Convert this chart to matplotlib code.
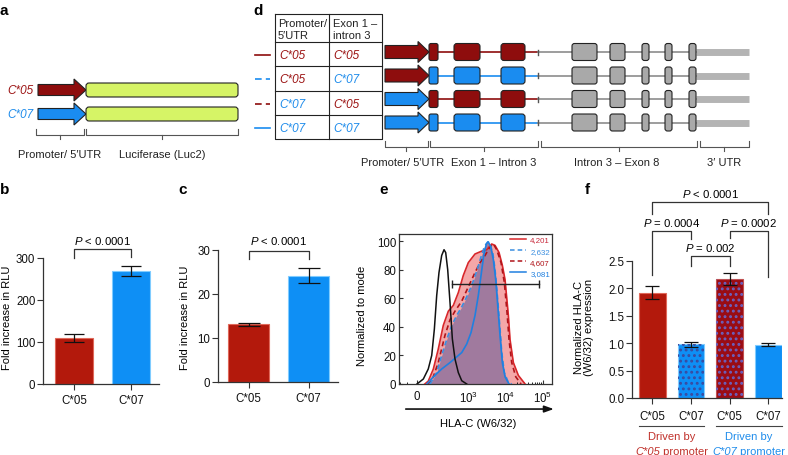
import numpy as np
import matplotlib
matplotlib.use("Agg")
import matplotlib.pyplot as plt
from matplotlib.patches import FancyArrow, FancyBboxPatch
from matplotlib.lines import Line2D
from matplotlib import transforms

# ========================= STYLE =========================
plt.rcParams["font.family"] = ["Liberation Sans", "DejaVu Sans"]
plt.rcParams["font.size"] = 8
plt.rcParams["mathtext.fontset"] = "custom"
plt.rcParams["mathtext.rm"] = "Liberation Sans"
plt.rcParams["mathtext.it"] = "Liberation Sans:italic"
plt.rcParams["axes.linewidth"] = 0.9
plt.rcParams["hatch.linewidth"] = 1.3

W, H = 788, 456
DARK_RED = "#8e0d0d"
RED_BAR = "#b3190c"
BLUE = "#1a8cf0"
BLUE_BAR = "#0e8ff5"
LIME = "#d6f466"
AX_COL = "#333333"
PINK = "#f4a7a8"
MAUVE = "#a07a9e"

ALLELE_COL = {"C*05": "#9c1414", "C*07": "#1f8ceb"}
GENE_COL = {"C*05": DARK_RED, "C*07": BLUE}

# ========================= DATA =========================
# a-c : luciferase reporter
LUC_ALLELES = ["C*05", "C*07"]
RLU_B = [110, 270]
RLU_B_ERR = [9, 12]
RLU_C = [13.1, 24.1]
RLU_C_ERR = [0.35, 1.7]
P_LUC = "< 0.0001"

# d : chimeric constructs + gene model (schematic units)
D_PROMOTER = ["C*05", "C*05", "C*07", "C*07"]
D_EXON = ["C*05", "C*07", "C*05", "C*07"]
PROMOTER_SPAN = (385, 429)
EXONS_1_3 = [(429, 438), (454, 480), (501, 525)]
INTRON3_START = 538
EXONS_4_8 = [(572, 597), (610, 625), (642, 649), (665, 672), (689, 696)]
UTR3 = (696, 749)
D_REGIONS = ["Promoter/ 5\u2032UTR", "Exon 1 \u2013 Intron 3", "Intron 3 \u2013 Exon 8", "3\u2032 UTR"]
D_REGION_SPANS = [(385, 428), (430, 538), (541, 697), (700, 749)]
D_REGION_LABEL_X = [403, 494, 617, 724]

# e : flow histograms (fluorescence vs % of mode)
ISO_X = [0, 32, 60, 83, 103, 123, 145, 175, 205, 229, 261, 303, 352, 416, 513, 636, 869]
ISO_Y = [0, 3.5, 10.5, 20, 38.5, 62, 78, 90, 94, 92, 80, 57, 31.5, 17.5, 8, 2.3, 0]
RS_X = [40, 60, 95, 138, 195, 272, 374, 514, 702, 961, 1456, 2212, 3020, 4125, 5070,
        6500, 7980, 9440, 11600, 12880, 15830, 21600, 32800]
RS_Y = [0, 2, 10.5, 24.5, 41, 51, 55, 64, 76, 85, 91, 93, 94, 98, 97, 92, 83, 73, 48,
        31, 15, 6, 0]
BD_X = [71, 123, 175, 244, 338, 464, 636, 869, 1186, 1620, 2120, 2600, 3215, 3780, 4390,
        5070, 5850, 6790, 7690, 9040, 11600, 14300]
BD_Y = [0, 8, 20, 31, 41, 48, 54, 61, 69, 79, 89, 96, 99.5, 97, 92, 80, 62, 41, 22, 8, 1, 0]
RD_X = [55, 83, 138, 218, 303, 416, 636, 961, 1456, 1990, 2720, 3710, 4560, 5630, 7360,
        9040, 10690, 12100, 14300, 18400, 25600]
RD_Y = [0, 2, 15, 34, 45, 51, 58, 68, 78, 85, 90, 96, 98, 94, 85, 71, 50, 31, 15, 5, 0]
BS_X = [51, 95, 175, 303, 464, 636, 869, 1136, 1456, 1790, 2120, 2505, 2945, 3335, 3875,
        4560, 5290, 5990, 6910, 7980, 9440, 12100]
BS_Y = [0, 5, 10.5, 15, 19, 22, 28, 36, 48, 62, 76, 90, 98, 99.5, 96, 87, 73, 55, 34, 15, 5, 0]
MFI_LABELS = ["4,201", "2,632", "4,607", "3,081"]
GATE_X = [345, 78000]
GATE_Y = 70

# f : normalized HLA-C expression
F_LABELS = ["C*05", "C*07", "C*05", "C*07"]
F_VALUES = [1.92, 0.98, 2.18, 0.97]
F_ERR = [0.12, 0.05, 0.11, 0.03]
F_PAIRS = [(0, 3), (0, 1), (2, 3), (1, 2)]
F_PVALS = ["< 0.0001", "= 0.0004", "= 0.0002", "= 0.002"]
F_BRACKET_Y = [3.58, 3.05, 3.05, 2.59]
F_LEG_ENDS = [(3.36, 3.36), (2.24, 2.90), (2.92, 2.21), (2.41, 2.41)]
F_GROUPS = ["C*05", "C*07"]

# ========================= HELPERS =========================
fig = plt.figure(figsize=(W / 100, H / 100), dpi=100)
renderer = fig.canvas.get_renderer()


def px_axes(x0, y0, x1, y1, **kw):
    return fig.add_axes([x0 / W, 1 - y1 / H, (x1 - x0) / W, (y1 - y0) / H], **kw)


def panel_letter(x, y, s):
    fig.text(x / W, 1 - y / H, s, fontsize=11, fontweight="bold", va="center", ha="left")


def style_bar_axes(ax):
    for s in ("top", "right"):
        ax.spines[s].set_visible(False)
    for s in ("left", "bottom"):
        ax.spines[s].set_color(AX_COL)
    ax.tick_params(length=4, width=0.8, color=AX_COL, labelcolor="#111", labelsize=8.3)
    ax.tick_params(axis="y", pad=1.5)
    ax.tick_params(axis="x", pad=3)


def pvalue(ax, i, j, y_top, legs, txt_y, label):
    ax.plot([i, i, j, j], [legs[0], y_top, y_top, legs[1]], color=AX_COL, lw=0.9, clip_on=False)
    ax.text((i + j) / 2, txt_y, "$\\mathit{P}$ " + label, ha="center", va="center", fontsize=8.2)


def bracket(ax, x0, x1, y_top, y_bot, tick):
    ax.plot([x0, x0, x1, x1], [y_top, y_bot, y_bot, y_top], color="#555", lw=0.8)
    xm = (x0 + x1) / 2
    ax.plot([xm, xm], [y_bot, y_bot + tick], color="#555", lw=0.8)


# ========================= SCHEMATICS (a, d) =========================
sch = fig.add_axes([0, 0, 1, 1], zorder=-1)
sch.set_xlim(0, W)
sch.set_ylim(H, 0)
sch.axis("off")

# panel a
for allele, y in zip(LUC_ALLELES, [91, 115]):
    sch.add_patch(FancyArrow(38, y, 48, 0, width=11, head_width=22, head_length=12,
                             length_includes_head=True, fc=GENE_COL[allele], ec="#222", lw=0.8))
    sch.add_patch(FancyBboxPatch((86, y - 7), 152, 14, boxstyle="round,pad=0,rounding_size=3",
                                 fc=LIME, ec="#222", lw=0.8))
    sch.text(33, y, allele, ha="right", va="center", style="italic", fontsize=8.5,
             color=ALLELE_COL[allele])
for (x0, x1), lab in zip([(36, 84), (86, 238)], ["Promoter/ 5\u2032UTR", "Luciferase (Luc2)"]):
    bracket(sch, x0, x1, 130, 136, 4)
    sch.text((x0 + x1) / 2, 155, lab, ha="center", va="center", fontsize=8, color="#222")

# panel d : table
t_left, t_mid, t_right = 275, 329, 382
row_lines = [15, 43, 67.25, 91.5, 115.75, 140]
sch.plot([t_left, t_right, t_right, t_left, t_left], [15, 15, 140, 140, 15], color="#222", lw=0.8)
for yl in row_lines[1:-1]:
    sch.plot([t_left, t_right], [yl, yl], color="#222", lw=0.8)
sch.plot([t_mid, t_mid], [15, 140], color="#222", lw=0.8)
sch.text(t_left + 3, 30, "Promoter/\n5\u2032UTR", ha="left", va="center", fontsize=8,
         linespacing=1.25, color="#222")
sch.text(t_mid + 4, 30, "Exon 1 \u2013\nintron 3", ha="left", va="center", fontsize=8,
         linespacing=1.25, color="#222")
for i, (prom, exon) in enumerate(zip(D_PROMOTER, D_EXON)):
    yc = (row_lines[i + 1] + row_lines[i + 2]) / 2 + 1
    sch.text(t_left + 4, yc, prom, ha="left", va="center", style="italic", fontsize=8.5,
             color=ALLELE_COL[prom])
    sch.text(t_mid + 4, yc, exon, ha="left", va="center", style="italic", fontsize=8.5,
             color=ALLELE_COL[exon])
    ln, = sch.plot([255, 270], [yc, yc], color=GENE_COL[exon], lw=1.2)
    if prom != exon:
        ln.set_dashes((4, 2.5))

# panel d : gene models
for i, (prom, exon) in enumerate(zip(D_PROMOTER, D_EXON)):
    y = 53 + 23.5 * i
    pc, ec = GENE_COL[prom], GENE_COL[exon]
    sch.plot([EXONS_1_3[0][1], INTRON3_START], [y, y], color=ec, lw=1.2, zorder=1)
    sch.plot([INTRON3_START, UTR3[0]], [y, y], color="#8c8c8c", lw=1.2, zorder=1)
    sch.plot([INTRON3_START] * 2, [y - 2.5, y + 2.5], color="#555", lw=1, zorder=1)
    sch.plot(UTR3, [y, y], color="#b4b4b4", lw=5, solid_capstyle="butt", zorder=1)
    sch.add_patch(FancyArrow(PROMOTER_SPAN[0], y, PROMOTER_SPAN[1] - PROMOTER_SPAN[0], 0,
                             width=13, head_width=21, head_length=11, length_includes_head=True,
                             fc=pc, ec="#222", lw=0.8, zorder=2))
    for k, (x0, x1) in enumerate(EXONS_1_3):
        sch.add_patch(FancyBboxPatch((x0, y - 8.5), x1 - x0, 17,
                                     boxstyle="round,pad=0,rounding_size=%.1f" % (2 if k == 0 else 3),
                                     fc=ec, ec="#222", lw=0.8, zorder=3))
    for x0, x1 in EXONS_4_8:
        sch.add_patch(FancyBboxPatch((x0, y - 8.5), x1 - x0, 17,
                                     boxstyle="round,pad=0,rounding_size=2.5",
                                     fc="#a9a9a9", ec="#222", lw=0.8, zorder=3))
for (x0, x1), lab, lx in zip(D_REGION_SPANS, D_REGIONS, D_REGION_LABEL_X):
    bracket(sch, x0, x1, 142, 148, 4)
    sch.text(lx, 163, lab, ha="center", va="center", fontsize=8, color="#222")

# ========================= PANEL b =========================
ax_b = px_axes(43, 259, 159, 385)
ax_b.bar([0, 1], RLU_B, width=0.66, color=[RED_BAR, BLUE_BAR], edgecolor=["#e0685a", "#80ccff"],
         linewidth=0.8, zorder=2)
ax_b.errorbar([0, 1], RLU_B, yerr=RLU_B_ERR, fmt="none", ecolor="#111", elinewidth=0.9,
              capsize=7, capthick=0.9, zorder=3)
ax_b.set_xlim(-0.54, 1.48)
ax_b.set_ylim(0, 300)
ax_b.set_yticks([0, 100, 200, 300])
ax_b.set_xticks([0, 1], LUC_ALLELES)
style_bar_axes(ax_b)
pvalue(ax_b, 0, 1, 321, (301, 302), 343, P_LUC)
ax_b.text(-0.313, 0.536, "Fold increase in RLU", rotation=90, ha="center", va="center",
          transform=ax_b.transAxes, fontsize=8)

# ========================= PANEL c =========================
ax_c = px_axes(218, 251, 338, 383)
ax_c.bar([0, 1], RLU_C, width=0.68, color=[RED_BAR, BLUE_BAR], edgecolor=["#e0685a", "#80ccff"],
         linewidth=0.8, zorder=2)
ax_c.errorbar([0, 1], RLU_C, yerr=RLU_C_ERR, fmt="none", ecolor="#111", elinewidth=0.9,
              capsize=8, capthick=0.9, zorder=3)
ax_c.set_xlim(-0.51, 1.49)
ax_c.set_ylim(0, 30)
ax_c.set_yticks([0, 10, 20, 30])
ax_c.set_xticks([0, 1], LUC_ALLELES)
style_bar_axes(ax_c)
pvalue(ax_c, 0, 1, 29.8, (28, 28), 32.2, P_LUC)
ax_c.text(-0.275, 0.496, "Fold increase in RLU", rotation=90, ha="center", va="center",
          transform=ax_c.transAxes, fontsize=8)

# ========================= PANEL e =========================
ax_e = px_axes(399, 235, 552, 385)
ax_e.set_xscale("function", functions=(lambda v: np.arcsinh(np.asarray(v) / 79.0),
                                       lambda u: 79.0 * np.sinh(u)))
ax_e.fill_between(RS_X, RS_Y, 0, color=PINK, lw=0, zorder=1)
ax_e.fill_between(BD_X, BD_Y, 0, color=MAUVE, lw=0, zorder=2)
ax_e.plot(RS_X, RS_Y, color="#d8262a", lw=1.2, zorder=3)
ax_e.plot(RD_X, RD_Y, color="#b0141a", lw=1.2, dashes=(3, 2), zorder=3)
ax_e.plot(BD_X, BD_Y, color="#3a8ee0", lw=1.2, dashes=(3, 2), zorder=4)
ax_e.plot(BS_X, BS_Y, color="#2080e0", lw=1.2, zorder=4)
ax_e.plot(ISO_X, ISO_Y, color="#111", lw=1.1, zorder=5)
ax_e.plot(GATE_X, [GATE_Y] * 2, color="#222", lw=1, marker="|", markersize=6, zorder=6)
ax_e.set_xlim(-108, 1.75e5)
ax_e.set_ylim(0, 105)
ax_e.set_yticks([0, 20, 40, 60, 80, 100])
ax_e.set_xticks([0, 1e3, 1e4, 1e5], ["0", "$10^{3}$", "$10^{4}$", "$10^{5}$"])
minor = [-100, -50, 50, 100] + [k * 10 ** d for d in (2, 3, 4) for k in range(2, 10)]
ax_e.set_xticks(minor, minor=True)
ax_e.tick_params(direction="in", length=3, width=0.8, color=AX_COL, labelcolor="#111", labelsize=8.3)
ax_e.tick_params(axis="x", which="minor", direction="in", length=1.8, width=0.6)
ax_e.tick_params(axis="x", pad=4)
ax_e.tick_params(axis="y", pad=2)
for s in ax_e.spines.values():
    s.set_color(AX_COL)
handles = [Line2D([], [], color="#d8262a", lw=1.1),
           Line2D([], [], color="#3a8ee0", lw=1.1, dashes=(3, 2)),
           Line2D([], [], color="#b0141a", lw=1.1, dashes=(3, 2)),
           Line2D([], [], color="#2080e0", lw=1.1)]
ax_e.legend(handles, MFI_LABELS, loc="upper right", bbox_to_anchor=(1.0, 1.0), frameon=False,
            fontsize=5.7, handlelength=1.9, handletextpad=0.6, labelspacing=0.45,
            borderpad=0.15, borderaxespad=0.1,
            labelcolor=["#c8283a", "#3a8ee0", "#b0141a", "#2080e0"])
ax_e.text(-0.244, 0.46, "Normalized to mode", rotation=90, ha="center", va="center",
          transform=ax_e.transAxes, fontsize=8)
ax_e.annotate("", xy=(1.03, -0.167), xytext=(0.026, -0.167), xycoords="axes fraction",
              arrowprops=dict(arrowstyle="-|>,head_length=0.7,head_width=0.25", lw=1.2, color="#111"),
              annotation_clip=False)
ax_e.text(0.516, -0.26, "HLA-C (W6/32)", ha="center", va="center", transform=ax_e.transAxes,
          fontsize=8)

# ========================= PANEL f =========================
ax_f = px_axes(632, 262, 782, 399)
xf = np.arange(len(F_VALUES))
ax_f.bar(xf, F_VALUES, width=0.7, color=[RED_BAR, BLUE_BAR, "#9a0c14", BLUE_BAR],
         edgecolor=["#e0685a", "#80ccff", "#c05050", "#80ccff"], linewidth=0.8, zorder=2)
for xi, v, hc in zip(xf, F_VALUES, [None, "#3a4aa0", "#6a62c0", None]):
    if hc:
        ax_f.bar(xi, v, width=0.7, facecolor="none", edgecolor=hc, hatch="...", linewidth=0, zorder=2)
ax_f.errorbar(xf, F_VALUES, yerr=F_ERR, fmt="none", ecolor="#111", elinewidth=0.9,
              capsize=4.7, capthick=0.9, zorder=3)
ax_f.set_xlim(-0.53, 3.36)
ax_f.set_ylim(0, 2.5)
ax_f.set_yticks([0, 0.5, 1.0, 1.5, 2.0, 2.5], ["0.0", "0.5", "1.0", "1.5", "2.0", "2.5"])
ax_f.set_xticks(xf, F_LABELS)
style_bar_axes(ax_f)
ax_f.tick_params(axis="x", pad=5)
for (i, j), lab, yt, legs in zip(F_PAIRS, F_PVALS, F_BRACKET_Y, F_LEG_ENDS):
    pvalue(ax_f, i, j, yt, legs, yt + 0.16, lab)
ax_f.text(-0.32, 0.526, "Normalized HLA-C\n(W6/32) expression", rotation=90, ha="center",
          va="center", transform=ax_f.transAxes, fontsize=8, linespacing=1.05)

trans_f = transforms.blended_transform_factory(ax_f.transData, ax_f.transAxes)
for g, allele in enumerate(F_GROUPS):
    xc = 2 * g + 0.5
    col = ALLELE_COL[allele] if allele == "C*07" else "#c0302a"
    ax_f.plot([xc - 0.85, xc + 0.85], [-0.204, -0.204], color="#444", lw=0.8,
              transform=trans_f, clip_on=False)
    ax_f.text(xc, -0.277, "Driven by", ha="center", va="center", color=col, transform=trans_f,
              fontsize=8)
    t1 = ax_f.text(xc, -0.39, allele, style="italic", color=col, ha="left", va="center",
                   transform=trans_f, fontsize=8)
    t2 = ax_f.text(xc, -0.39, " promoter", color=col, ha="left", va="center",
                   transform=trans_f, fontsize=8)
    w1 = t1.get_window_extent(renderer).width
    w2 = t2.get_window_extent(renderer).width
    shift = -(w1 + w2) / 2
    t1.set_transform(trans_f + transforms.ScaledTranslation(shift / fig.dpi, 0, fig.dpi_scale_trans))
    t2.set_transform(trans_f + transforms.ScaledTranslation((shift + w1) / fig.dpi, 0,
                                                            fig.dpi_scale_trans))

# ========================= LETTERS =========================
panel_letter(0, 11, "a")
panel_letter(253, 11, "d")
panel_letter(0, 190, "b")
panel_letter(178, 190, "c")
panel_letter(379, 190, "e")
panel_letter(585, 190, "f")

fig.savefig("out.png", dpi=100)
